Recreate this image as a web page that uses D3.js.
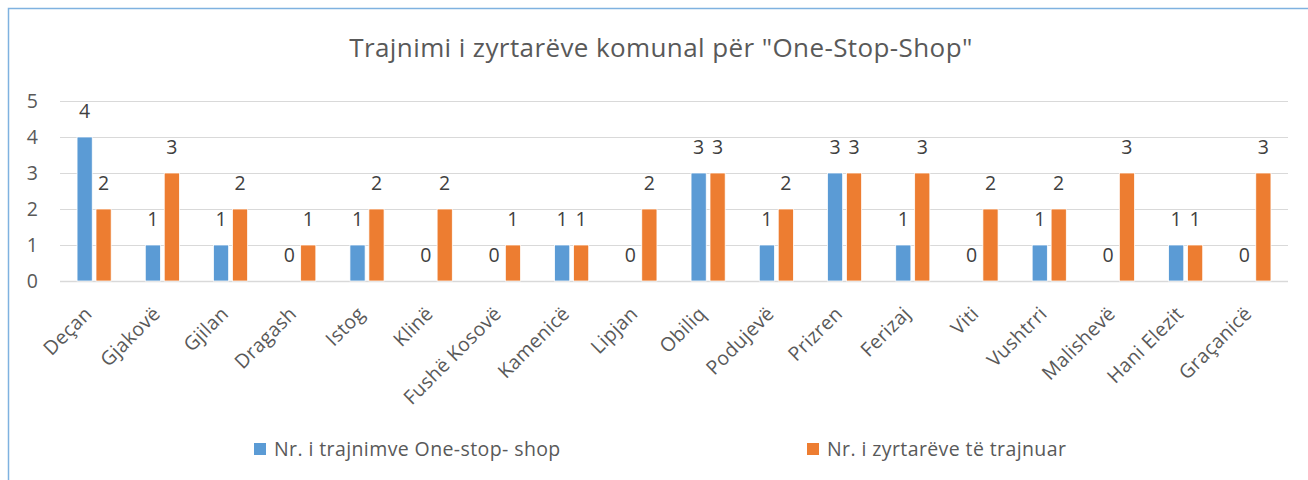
<!DOCTYPE html>
<html>
<head>
<meta charset="utf-8">
<script src="https://cdn.jsdelivr.net/npm/d3@7"></script>
<style>
  body { margin: 0; background: #fff; }
  svg { display: block; font-family: "Open Sans", "Noto Sans", sans-serif; }
</style>
</head>
<body>
<svg id="chart" width="1308" height="480"></svg>
<script>
// data
var municipalities = ["Deçan", "Gjakovë", "Gjilan", "Dragash", "Istog", "Klinë", "Fushë Kosovë",
  "Kamenicë", "Lipjan", "Obiliq", "Podujevë", "Prizren", "Ferizaj", "Viti", "Vushtrri",
  "Malishevë", "Hani Elezit", "Graçanicë"];
var trainings = [4, 1, 1, 0, 1, 0, 0, 1, 0, 3, 1, 3, 1, 0, 1, 0, 1, 0];
var officials = [2, 3, 2, 1, 2, 2, 1, 1, 2, 3, 2, 3, 3, 2, 2, 3, 1, 3];
var seriesNames = ["Nr. i trajnimve One-stop- shop", "Nr. i zyrtarëve të trajnuar"];
var seriesColors = ["#5b9bd5", "#ed7d31"];
var yTicks = [0, 1, 2, 3, 4, 5];

var svg = d3.select("#chart");
var textColor = "#595959";
var labelSize = "19.5px";

// chart border (extends past right / bottom edges)
svg.append("rect")
  .attr("x", 8.5).attr("y", 8.5)
  .attr("width", 1320).attr("height", 500)
  .attr("fill", "none")
  .attr("stroke", "#7fb2e0")
  .attr("stroke-width", 1.5);

svg.append("text")
  .attr("x", 661).attr("y", 57)
  .attr("text-anchor", "middle")
  .style("font-size", "26px")
  .style("letter-spacing", "0.4px")
  .style("fill", textColor)
  .text('Trajnimi i zyrtarëve komunal për "One-Stop-Shop"');

var x = d3.scaleBand().domain(municipalities).range([60, 1288]);
var x1 = d3.scaleBand().domain([0, 1])
  .range([x.bandwidth() * 0.25, x.bandwidth() * 0.75])
  .paddingInner(0.2);
var y = d3.scaleLinear().domain([0, 5]).range([281, 101]);

// gridlines
svg.append("g").selectAll("line")
  .data(yTicks)
  .join("line")
  .attr("x1", 60).attr("x2", 1288)
  .attr("y1", d => Math.round(y(d)) + 0.5)
  .attr("y2", d => Math.round(y(d)) + 0.5)
  .attr("stroke", "#d9d9d9")
  .attr("stroke-width", d => d === 0 ? 1.5 : 1);

// y tick labels
svg.append("g").selectAll("text")
  .data(yTicks)
  .join("text")
  .attr("x", 38)
  .attr("y", d => y(d) + 7)
  .attr("text-anchor", "end")
  .style("font-size", labelSize)
  .style("fill", textColor)
  .text(d => d);

var rows = municipalities.map((m, i) => ({ name: m, values: [trainings[i], officials[i]] }));

var groups = svg.append("g").selectAll("g")
  .data(rows)
  .join("g")
  .attr("transform", d => `translate(${x(d.name)},0)`);

groups.selectAll("rect")
  .data(d => d.values.map((v, s) => ({ v: v, s: s })))
  .join("rect")
  .attr("x", d => x1(d.s))
  .attr("y", d => y(d.v))
  .attr("width", x1.bandwidth())
  .attr("height", d => y(0) - y(d.v))
  .attr("fill", d => seriesColors[d.s])
  .attr("stroke", "#fff")
  .attr("stroke-width", 0.75);

groups.selectAll("text.val")
  .data(d => d.values.map((v, s) => ({ v: v, s: s })))
  .join("text")
  .attr("class", "val")
  .attr("x", d => x1(d.s) + x1.bandwidth() / 2)
  .attr("y", d => y(d.v) - 19)
  .attr("text-anchor", "middle")
  .style("font-size", labelSize)
  .style("fill", "#404040")
  .text(d => d.v);

// rotated category labels
svg.append("g").selectAll("text")
  .data(municipalities)
  .join("text")
  .attr("transform", d => `translate(${x(d) + x.bandwidth() / 2 - 1},315) rotate(-45)`)
  .attr("text-anchor", "end")
  .style("font-size", labelSize)
  .style("letter-spacing", "0.3px")
  .style("fill", textColor)
  .text(d => d);

// legend
var legendX = [254, 807];
var legend = svg.append("g").selectAll("g")
  .data(seriesNames)
  .join("g")
  .attr("transform", (d, i) => `translate(${legendX[i]},443)`);

legend.append("rect")
  .attr("width", 12).attr("height", 12)
  .attr("fill", (d, i) => seriesColors[i]);

legend.append("text")
  .attr("x", 20).attr("y", 13)
  .style("font-size", labelSize)
  .style("letter-spacing", "0.4px")
  .style("fill", textColor)
  .text(d => d);
</script>
</body>
</html>
